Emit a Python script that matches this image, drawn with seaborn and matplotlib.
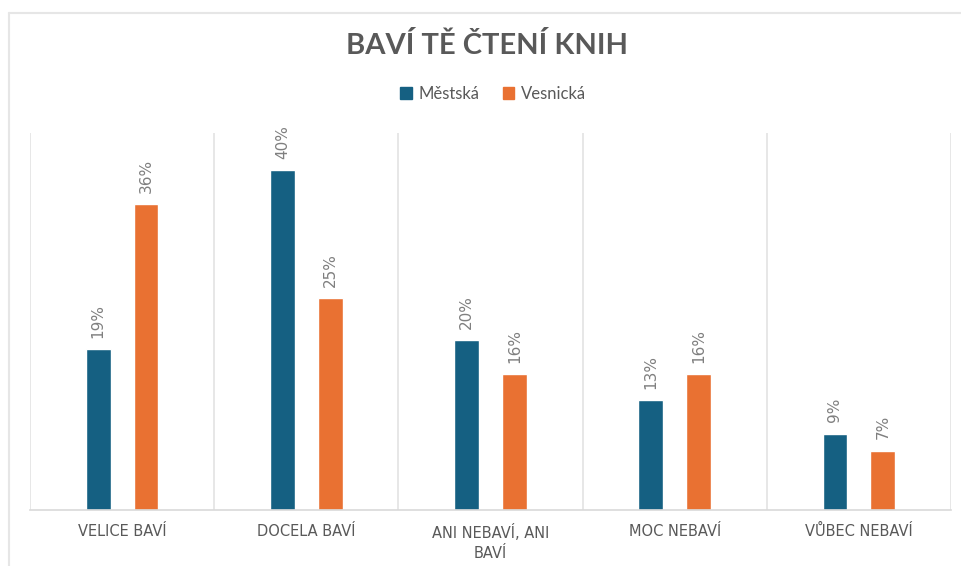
import matplotlib
matplotlib.use("Agg")
import matplotlib.pyplot as plt
import seaborn as sns
import pandas as pd
from matplotlib.lines import Line2D

categories = ["VELICE BAVÍ", "DOCELA BAVÍ", "ANI NEBAVÍ, ANI\nBAVÍ", "MOC NEBAVÍ", "VŮBEC NEBAVÍ"]
series_names = ["Městská", "Vesnická"]
mestska = [19, 40, 20, 13, 9]
vesnicka = [36, 25, 16, 16, 7]
colors = ["#156082", "#E97132"]
title = "BAVÍ TĚ ČTENÍ KNIH"

df = pd.DataFrame({
    "kategorie": categories * 2,
    "skupina": [series_names[0]] * len(categories) + [series_names[1]] * len(categories),
    "hodnota": mestska + vesnicka,
})

sns.set_theme(style="white")
plt.rcParams["font.family"] = ["Lato", "DejaVu Sans"]

W, H = 961, 566
fig = plt.figure(figsize=(W / 100, H / 100), dpi=100)
ax = fig.add_axes([30 / W, 1 - 510 / H, (951 - 30) / W, (510 - 133) / H])

sns.barplot(data=df, x="kategorie", y="hodnota", hue="skupina", order=categories,
            hue_order=series_names, palette=colors, width=0.52, gap=0.48,
            saturation=1, ax=ax, legend=False)

ax.set_xlim(-0.5, len(categories) - 0.5)
ax.set_ylim(0, 44.4)
ax.set_xlabel("")
ax.set_ylabel("")
ax.set_yticks([])
for s in ["top", "right", "left"]:
    ax.spines[s].set_visible(False)
ax.spines["bottom"].set_color("#d9d9d9")
ax.spines["bottom"].set_linewidth(1.2)
for xb in range(len(categories) + 1):
    ax.axvline(xb - 0.5, color="#e3e3e3", lw=1.2, zorder=0)

ax.tick_params(axis="x", length=0, pad=10, labelsize=10.5, labelcolor="#595959")
for lbl in ax.get_xticklabels():
    lbl.set_linespacing(1.45)
    lbl.set_family(["DejaVu Sans"])

for cont in ax.containers:
    ax.bar_label(cont, labels=[f"{int(round(v))}%" for v in cont.datavalues],
                 rotation=90, padding=8, fontsize=11, color="#7f7f7f",
                 family=["DejaVu Sans"])

fig.text(487 / W, 1 - 45 / H, title, ha="center", va="center", fontsize=21,
         fontweight="bold", color="#595959")

handles = [plt.Rectangle((0, 0), 1, 1, color=c) for c in colors]
fig.legend(handles, series_names, loc="center", bbox_to_anchor=(493 / W, 1 - 94 / H),
           ncol=2, frameon=False, fontsize=12, handlelength=0.7, handleheight=0.7,
           handletextpad=0.4, columnspacing=1.4, labelcolor="#595959")

fig.add_artist(Line2D([8.5 / W, 8.5 / W], [0, 1 - 12.5 / H], color="#e6e6e6", lw=1.5,
                      transform=fig.transFigure))
fig.add_artist(Line2D([8.5 / W, 1], [1 - 12.5 / H, 1 - 12.5 / H], color="#e6e6e6", lw=1.5,
                      transform=fig.transFigure))

fig.savefig("out.png", dpi=100)
